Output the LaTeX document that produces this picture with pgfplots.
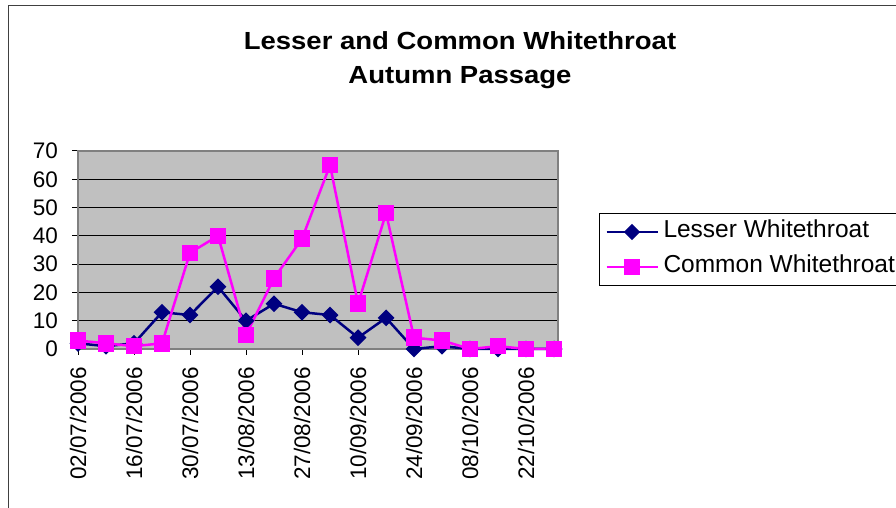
\documentclass[border=0pt]{standalone}
\usepackage{pgfplots}
\pgfplotsset{compat=1.18}
\usepackage{fontspec}
\setmainfont{Liberation Sans}
\usepackage{graphicx}
\definecolor{navyc}{HTML}{000080}
\definecolor{pinkc}{HTML}{FF00FF}
\definecolor{plotbg}{HTML}{C0C0C0}
\definecolor{framec}{HTML}{808080}
\begin{document}
\begin{tikzpicture}[x=1pt,y=1pt]
\useasboundingbox (0pt,0pt) rectangle (896pt,508pt);
\clip (0pt,0pt) rectangle (896pt,508pt);
\draw[line width=1.5pt, color=black!75] (8.5pt,-5pt) -- (8.5pt,502.5pt) -- (900pt,502.5pt);
\node[font=\fontsize{27.5}{30}\selectfont\bfseries, anchor=base, inner sep=0pt] at (460pt,458.7pt) {\scalebox{1}[0.9]{Lesser and Common Whitethroat}};
\node[font=\fontsize{27.5}{30}\selectfont\bfseries, anchor=base, inner sep=0pt] at (460pt,424pt) {\scalebox{1}[0.9]{Autumn Passage}};
\begin{axis}[
  at={(78pt,159pt)}, anchor=south west,
  scale only axis, width=480pt, height=198pt,
  xmin=0, xmax=17.14, ymin=0, ymax=70,
  clip=false,
  axis background/.style={fill=plotbg},
  axis line style={draw=framec, line width=1.5pt},
  ymajorgrids, major grid style={black, line width=1pt},
  ytick={0,10,...,70},
  xtick={0,2,...,16},
  xticklabels={02/07/2006,16/07/2006,30/07/2006,13/08/2006,27/08/2006,10/09/2006,24/09/2006,08/10/2006,22/10/2006},
  tick align=outside, major tick length=6pt,
  tick style={black, line width=1pt},
  xtick pos=bottom, ytick pos=left,
  yticklabel style={font=\fontsize{22.5}{26}\selectfont, inner sep=0pt, anchor=east, xshift=-14pt},
  xticklabel style={font=\fontsize{22.5}{26}\selectfont, inner sep=0pt, rotate=90, anchor=east, xshift=-12pt},
  /pgf/number format/assume math mode=true,
  legend style={at={(1.0854,0.687)}, anchor=north west, draw=black, line width=1pt,
    font=\fontsize{24.5}{27}\selectfont, row sep=10pt, inner sep=6pt,
    nodes={inner sep=2pt, text height=16pt, text depth=5pt},
    /tikz/every odd column/.append style={column sep=3pt}},
  legend cell align=left,
  legend image code/.code={\draw[mark repeat=2, mark phase=2, #1, line width=2pt] plot coordinates {(0pt,0pt) (25.5pt,0pt) (51pt,0pt)};},
]
\addplot[navyc, line width=2.5pt, mark=square*, mark size=4.7pt, mark options={solid, rotate=45}]
 coordinates {(0,2) (1,1) (2,2) (3,13) (4,12) (5,22) (6,10) (7,16) (8,13) (9,12) (10,4) (11,11) (12,0) (13,1) (14,0) (15,0) (16,0) (17,0)};
\addlegendentry{Lesser Whitethroat}
\addplot[pinkc, line width=2.5pt, mark=square*, mark size=7pt, mark options={solid}]
 coordinates {(0,3) (1,2) (2,1) (3,2) (4,34) (5,40) (6,5) (7,25) (8,39) (9,65) (10,16) (11,48) (12,4) (13,3) (14,0) (15,1) (16,0) (17,0)};
\addlegendentry{Common Whitethroat}
\end{axis}
\end{tikzpicture}
\end{document}
